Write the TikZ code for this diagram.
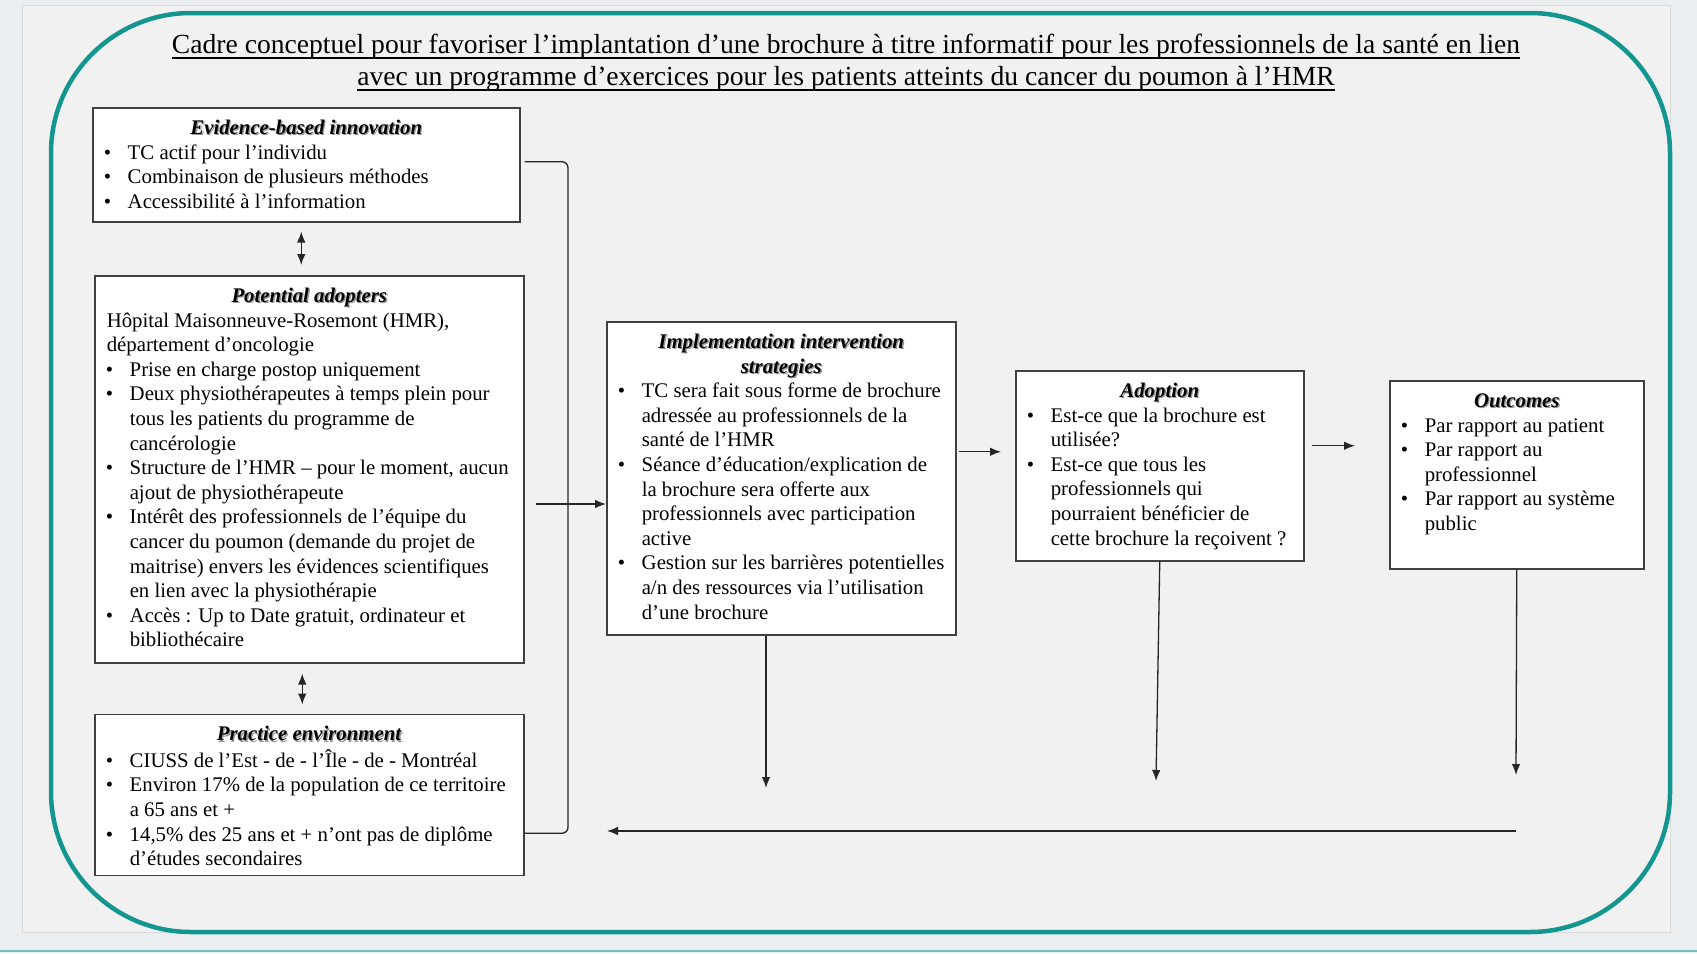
\documentclass[tikz,border=0pt]{standalone}
\usepackage{fontspec}
\setmainfont{Liberation Serif}
\definecolor{PageGray}{HTML}{EBEEF0}
\definecolor{SlideGray}{HTML}{F1F1F1}
\definecolor{FrameTeal}{HTML}{12968F}
\definecolor{BoxLine}{HTML}{404040}
\usetikzlibrary{arrows.meta,positioning,calc}
\newsavebox{\ulbox}
\newcommand{\uln}[1]{\sbox{\ulbox}{#1}\rlap{\rule[-5pt]{\wd\ulbox}{1.3pt}}\usebox{\ulbox}}
\newcommand{\hdr}[1]{\makebox[\linewidth]{\makebox[0pt][l]{\hspace{1.4pt}\raisebox{-1.4pt}{\color{black!40}\textbf{\textit{#1}}}}\textbf{\textit{#1}}}}
\newcommand{\bul}{\hspace*{11pt}\makebox[24pt][l]{\textbullet}}
\newcommand{\cont}{\hspace*{35pt}}
\newcommand{\boxbody}[3]{\parbox[t][#2][t]{#1}{\raggedright\strut #3}}

\begin{document}
\begin{tikzpicture}[x=1pt,y=-1pt,node distance=50pt,>={Latex[length=11pt,width=8.5pt]}]
\tikzstyle{panel}=[draw=BoxLine,line width=1.5pt,fill=white,anchor=north west,inner xsep=0pt,inner ysep=9.5pt,font=\fontsize{20.8}{24.6}\selectfont]
\tikzstyle{link}=[line width=1.3pt,black!85]
\useasboundingbox (0,0) rectangle (1697,953);
\fill[PageGray] (0,0) rectangle (1697,953);
\filldraw[fill=SlideGray,draw=black!15,line width=1pt] (22,5) rectangle (1670,932);
\draw[FrameTeal,line width=4.5pt,rounded corners=140pt] (51,13) rectangle (1670,932);
\draw[FrameTeal!60,line width=1.5pt] (0,951) -- (1697,951);

\node[font=\fontsize{27.6}{32}\selectfont,align=center] (ttl) at (846,63) {\uln{Cadre conceptuel pour favoriser l’implantation d’une brochure à titre informatif pour les professionnels de la santé en lien}\\\uln{avec un programme d’exercices pour les patients atteints du cancer du poumon à l’HMR}};

\node[panel] (evid) at (92,107) {\boxbody{427pt}{95pt}{\hdr{Evidence-based innovation}\\
\bul TC actif pour l’individu\\
\bul Combinaison de plusieurs méthodes\\
\bul Accessibilité à l’information}};
\node[panel] (adopt) at (94,275) {\boxbody{429pt}{368pt}{\hdr{Potential adopters}\\
\hspace*{12pt}Hôpital Maisonneuve-Rosemont (HMR),\\
\hspace*{12pt}département d’oncologie\\
\bul Prise en charge postop uniquement\\
\bul Deux physiothérapeutes à temps plein pour\\
\cont tous les patients du programme de\\
\cont cancérologie\\
\bul Structure de l’HMR – pour le moment, aucun\\
\cont ajout de physiothérapeute\\
\bul Intérêt des professionnels de l’équipe du\\
\cont cancer du poumon (demande du projet de\\
\cont maitrise) envers les évidences scientifiques\\
\cont en lien avec la physiothérapie\\
\bul Accès : Up to Date gratuit, ordinateur et\\
\cont bibliothécaire}};
\node[panel,anchor=north,below=of adopt] (pract) {\boxbody{429pt}{142pt}{\hdr{Practice environment}\\
\bul CIUSS de l’Est - de - l’Île - de - Montréal\\
\bul Environ 17\% de la population de ce territoire\\
\cont a 65 ans et +\\
\bul 14,5\% des 25 ans et + n’ont pas de diplôme\\
\cont d’études secondaires}};
\node[panel] (impl) at (606,321) {\boxbody{349pt}{294pt}{\hdr{Implementation intervention}\\
\hdr{strategies}\\
\bul TC sera fait sous forme de brochure\\
\cont adressée au professionnels de la\\
\cont santé de l’HMR\\
\bul Séance d’éducation/explication de\\
\cont la brochure sera offerte aux\\
\cont professionnels avec participation\\
\cont active\\
\bul Gestion sur les barrières potentielles\\
\cont a/n des ressources via l’utilisation\\
\cont d’une brochure}};
\node[panel] (adopn) at (1015,370) {\boxbody{288pt}{171pt}{\hdr{Adoption}\\
\bul Est-ce que la brochure est\\
\cont utilisée?\\
\bul Est-ce que tous les\\
\cont professionnels qui\\
\cont pourraient bénéficier de\\
\cont cette brochure la reçoivent ?}};
\node[panel] (outc) at (1389,380) {\boxbody{254pt}{169pt}{\hdr{Outcomes}\\
\bul Par rapport au patient\\
\bul Par rapport au\\
\cont professionnel\\
\bul Par rapport au système\\
\cont public}};

\coordinate (brk) at (568,504);
\coordinate (tail) at (536,504);
\coordinate (d1) at (766,788);
\coordinate (d2) at (1156,781);
\coordinate (d3) at (1516,775);
\coordinate (r1) at (1516,831);
\coordinate (r2) at (607,831);

\draw[link,<->,shorten <=9pt,shorten >=10pt] ([xshift=-5pt]evid.south) -- ([xshift=-5pt]evid.south |- adopt.north);
\draw[link,<->,shorten <=10pt,shorten >=9pt] ([xshift=-7pt]adopt.south) -- ([xshift=-7pt]pract.north);
\draw[link,rounded corners=6pt] ([xshift=4pt,yshift=3pt]evid.east) -| (brk) |- ([yshift=-38.5pt]pract.east);
\draw[link,->] (tail) -- (tail -| impl.west);
\draw[link,->,shorten <=2pt,shorten >=14pt] ([yshift=26.5pt]impl.east) -- ([yshift=26.5pt]impl.east -| adopn.west);
\draw[link,->,shorten <=7pt,shorten >=34pt] ([yshift=20pt]adopn.east) -- ([yshift=20pt]adopn.east -| outc.west);
\draw[link,->] (impl.south -| d1) -- (d1);
\draw[link,->] (adopn.south) -- (d2);
\draw[link,->] (outc.south) -- (d3);
\draw[link,->] (r1) -- (r2);
\end{tikzpicture}
\end{document}
